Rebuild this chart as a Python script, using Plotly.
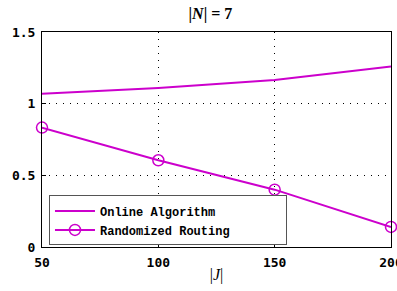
import plotly.graph_objects as go

J = [50, 100, 150, 200]
online = [1.07, 1.11, 1.165, 1.26]
randomized = [0.833, 0.605, 0.40, 0.14]
x_ticks = [50, 100, 150, 200]
y_ticks = [0, 0.5, 1, 1.5]
y_labels = ["0", "0.5", "1", "1.5"]

C = "#cc00cc"
PAD = "<span style='color:rgba(0,0,0,0)'>_______</span>"
fig = go.Figure()
fig.add_trace(go.Scatter(x=J, y=online, mode="lines", name="Online Algorithm",
                         line=dict(color=C, width=2), cliponaxis=False))
fig.add_trace(go.Scatter(x=J, y=randomized, mode="lines+markers", name="Randomized Routing" + PAD,
                         line=dict(color=C, width=2), cliponaxis=False,
                         marker=dict(symbol="circle-open", size=11, color=C, line=dict(width=1.5, color=C))))

tickfont = dict(family="DejaVu Sans Mono", size=13, color="black", weight="bold")
axis_common = dict(showline=True, linecolor="black", linewidth=1, mirror=True,
                   ticks="inside", ticklen=4, tickcolor="black",
                   showgrid=True, gridcolor="black", griddash="1px,6px", gridwidth=1,
                   zeroline=False, automargin=False, ticklabeloverflow="allow",
                   tickfont=tickfont)
fig.update_xaxes(range=[50, 200], tickvals=x_ticks, ticktext=[str(v) for v in x_ticks],
                 ticklabelstandoff=3,
                 title=dict(text="|<i>J</i>|", font=dict(family="Liberation Serif", size=16, color="black"), standoff=0),
                 **axis_common)
fig.update_yaxes(range=[0, 1.5], tickvals=y_ticks, ticktext=y_labels, ticklabelstandoff=3, **axis_common)

fig.update_layout(
    width=397, height=291,
    margin=dict(l=42, r=6, t=32, b=44),
    paper_bgcolor="white", plot_bgcolor="white",
    title=dict(text="<b>|<i>N</i>|\u00a0=\u00a07</b>", x=0.53, xanchor="center", y=0.955, yanchor="middle",
               font=dict(family="Liberation Serif", size=16, color="black")),
    legend=dict(x=0.02, y=0.24, xanchor="left", yanchor="top",
                bgcolor="white", bordercolor="#555555", borderwidth=1,
                font=dict(family="Liberation Mono", size=12, color="black", weight="bold"),
                tracegroupgap=0, itemwidth=40),
    showlegend=True,
)
fig.write_html("out.html", config={"displayModeBar": False},
               post_script="document.body.style.margin='0';")
